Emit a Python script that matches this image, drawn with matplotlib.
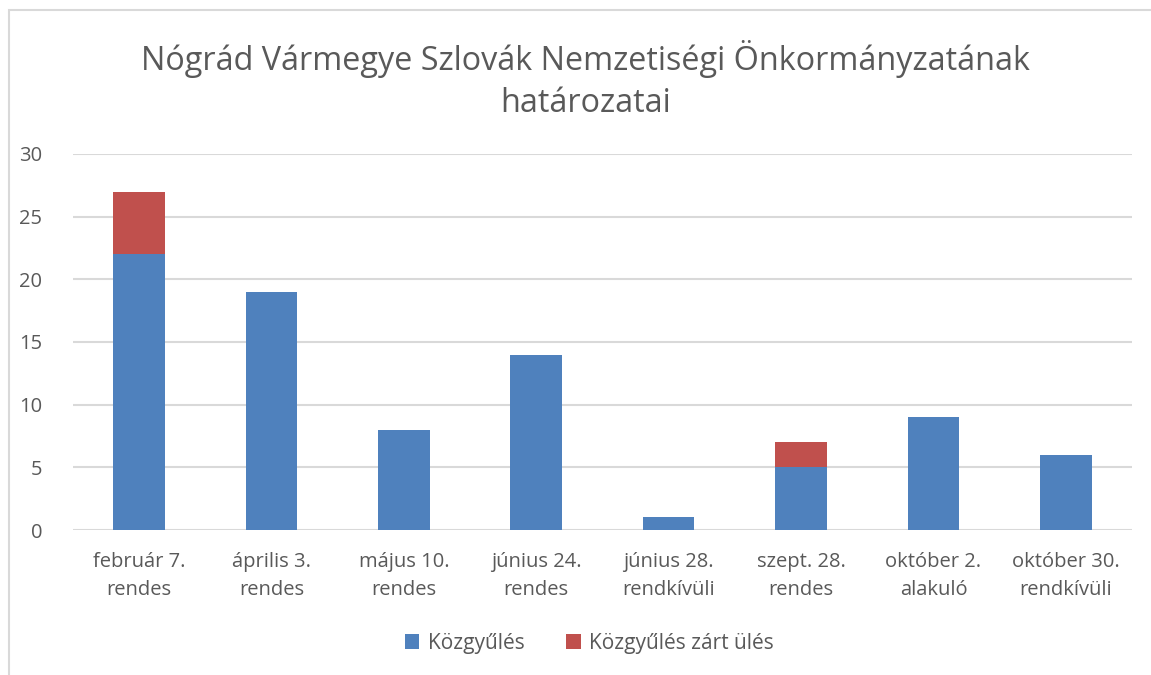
import matplotlib.pyplot as plt
import numpy as np
from matplotlib.patches import Rectangle

# Data
categories = ['február 7.\nrendes', 'április 3.\nrendes', 'május 10.\nrendes',
              'június 24.\nrendes', 'június 28.\nrendkívüli', 'szept. 28.\nrendes',
              'október 2.\nalakuló', 'október 30.\nrendkívüli']
kozgyules = [22, 19, 8, 14, 1, 5, 9, 6]
zart_ules = [5, 0, 0, 0, 0, 2, 0, 0]

blue = '#4F81BD'
red = '#C0504D'
text_col = '#595959'

plt.rcParams['font.family'] = ['Open Sans', 'DejaVu Sans']

fig = plt.figure(figsize=(11.51, 6.75), dpi=100)
ax = fig.add_axes([0.0634, 0.2148, 0.9201, 0.5571])

x = np.arange(len(categories))
ax.bar(x, kozgyules, width=0.39, color=blue, label='Közgyűlés', zorder=3)
ax.bar(x, zart_ules, width=0.39, bottom=kozgyules, color=red,
       label='Közgyűlés zárt ülés', zorder=3)

ax.set_xlim(-0.5, len(categories) - 0.5)
ax.set_ylim(0, 30)
ax.set_yticks(range(0, 31, 5))
ax.set_xticks(x)
ax.set_xticklabels(categories, fontsize=14.5, color=text_col, linespacing=1.5)
ax.tick_params(axis='y', labelsize=14.5, labelcolor=text_col, length=0, pad=22)
ax.tick_params(axis='x', length=0, pad=16)
ax.grid(axis='y', color='#D9D9D9', linewidth=1.5, zorder=0)
for s in ax.spines.values():
    s.set_visible(False)

fig.suptitle('Nógrád Vármegye Szlovák Nemzetiségi Önkormányzatának\nhatározatai',
             x=0.509, y=0.94, fontsize=23.3, color=text_col, linespacing=1.35)

fig.legend(loc='center', bbox_to_anchor=(0.512, 0.047), ncol=2, frameon=False,
           fontsize=15, labelcolor=text_col, handlelength=0.7, handleheight=0.7,
           handletextpad=0.4, columnspacing=2.0)

# chart area border
fig.add_artist(Rectangle((9 / 1151, -0.1), 1.2, 1 - 10 / 675 + 0.1,
                         transform=fig.transFigure, fill=False,
                         edgecolor='#D9D9D9', linewidth=1.5))

fig.savefig('out.png', dpi=100)
